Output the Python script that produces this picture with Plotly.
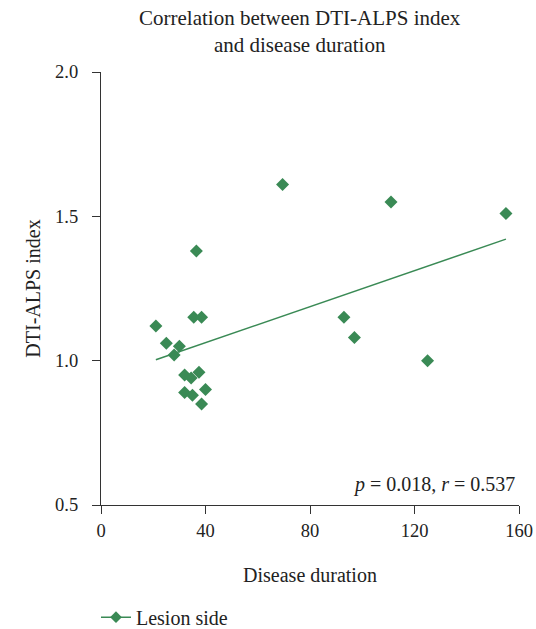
import plotly.graph_objects as go

# Data
duration = [21, 25, 28, 30, 35.5, 38.5, 36.5, 32, 34.5, 37.5, 32, 35, 40, 38.5, 69.5, 111, 155, 93, 97, 125]
alps = [1.12, 1.06, 1.02, 1.05, 1.15, 1.15, 1.38, 0.95, 0.94, 0.96, 0.89, 0.88, 0.90, 0.85, 1.61, 1.55, 1.51, 1.15, 1.08, 1.00]
fit_x = [21, 155]
fit_y = [1.003, 1.421]
x_ticks = [0, 40, 80, 120, 160]
y_ticks = [0.5, 1.0, 1.5, 2.0]

GREEN = "#3a8a55"
FONT = "Liberation Serif"
TXT = "#222"

fig = go.Figure()
fig.add_trace(go.Scatter(
    x=fit_x, y=fit_y, mode="lines",
    line=dict(color=GREEN, width=1.5),
    showlegend=False, hoverinfo="skip"))
fig.add_trace(go.Scatter(
    x=duration, y=alps, mode="markers",
    marker=dict(symbol="diamond", size=10, color=GREEN),
    name="Lesion side", showlegend=False))
# legend entry: line + diamond
fig.add_trace(go.Scatter(
    x=[None], y=[None], mode="lines+markers",
    line=dict(color=GREEN, width=1.5),
    marker=dict(symbol="diamond", size=9, color=GREEN),
    name="Lesion side"))

fig.update_layout(
    width=536, height=629,
    margin=dict(l=101, r=17, t=72, b=124, autoexpand=False),
    paper_bgcolor="white", plot_bgcolor="white",
    font=dict(family=FONT, size=18, color=TXT),
    xaxis=dict(range=[0, 160], tickvals=x_ticks, ticks="outside", ticklen=8,
               ticklabelstandoff=1,
               showline=True, linecolor="#333", linewidth=1.2, tickcolor="#333",
               showgrid=False, zeroline=False,
               title=dict(text="Disease duration", standoff=27,
                          font=dict(family=FONT, size=20, color=TXT)),
               tickfont=dict(family=FONT, size=18.5, color=TXT)),
    yaxis=dict(range=[0.5, 2.0], tickvals=y_ticks, tickformat=".1f",
               ticks="outside", ticklen=8, ticklabelstandoff=10,
               showline=True, linecolor="#333", linewidth=1.2, tickcolor="#333",
               showgrid=False, zeroline=False,
               title=dict(text="DTI-ALPS index", standoff=9,
                          font=dict(family=FONT, size=20, color=TXT)),
               tickfont=dict(family=FONT, size=18.5, color=TXT)),
    legend=dict(orientation="h", x=-0.012, xanchor="left", y=-0.259, yanchor="middle",
                font=dict(family=FONT, size=20, color=TXT)),
    annotations=[
        dict(text="Correlation between DTI-ALPS index<br>and disease duration",
             xref="paper", yref="paper", x=0.476, y=1.093,
             xanchor="center", yanchor="middle", showarrow=False,
             font=dict(family=FONT, size=21, color=TXT)),
        dict(text="<i>p</i> = 0.018, <i>r</i> = 0.537",
             xref="paper", yref="paper", x=0.995, y=0.048,
             xanchor="right", yanchor="middle",
             showarrow=False, font=dict(family=FONT, size=20, color=TXT)),
    ],
)

fig.write_html("out.html", config={"displayModeBar": False},
               post_script="document.body.style.margin='0px';")
